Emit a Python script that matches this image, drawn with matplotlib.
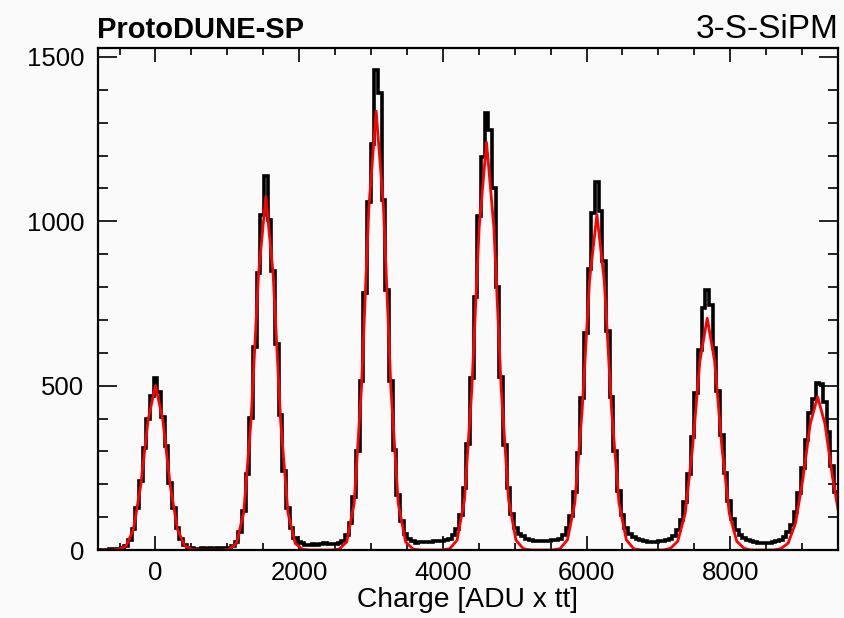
import numpy as np
import matplotlib
matplotlib.use('Agg')
import matplotlib.pyplot as plt
from matplotlib.ticker import MultipleLocator

plt.rcParams['font.family'] = ['Liberation Sans', 'DejaVu Sans']

# binning: 51.2 ADU per bin, first bin centred at -16 * 51.2
BIN_W = 51.2
FIRST_BIN = -16

# histogram counts, one per bin
counts = [
    0, 1, 0, 1, 2, 3,
    # pedestal
    4, 6, 13, 30, 64, 128, 210, 310, 400, 470, 522, 480, 405, 315, 205, 128, 66, 32, 15, 7, 5,
    4, 3, 5, 4, 5, 4, 6, 5, 6, 7,
    # 1 p.e.
    12, 25, 55, 119, 232, 402, 619, 842, 1020, 1137, 1005, 850, 628, 410, 240, 128, 66, 38, 24, 20,
    16, 15, 17, 16, 18, 22, 18, 17, 19, 20,
    # 2 p.e.
    28, 45, 83, 161, 302, 513, 782, 1060, 1235, 1459, 1390, 1065, 790, 515, 305, 166, 88, 50, 34, 27,
    22, 24, 23, 25, 24, 26, 27, 28, 30, 34,
    # 3 p.e.
    46, 65, 106, 188, 324, 524, 769, 1017, 1195, 1328, 1277, 1100, 800, 525, 320, 190, 110, 68, 50, 42,
    34, 30, 28, 27, 27, 28, 27, 29, 31, 34,
    # 4 p.e.
    47, 66, 105, 178, 295, 461, 659, 855, 1025, 1119, 1030, 880, 665, 465, 300, 180, 108, 68, 48, 40,
    34, 30, 27, 25, 24, 25, 26, 27, 30, 34,
    # 5 p.e.
    44, 60, 91, 145, 230, 345, 479, 609, 735, 790, 745, 615, 485, 350, 235, 150, 95, 62, 46, 38,
    30, 26, 23, 22, 20, 21, 22, 24, 26, 30,
    # 6 p.e.
    41, 54, 77, 115, 173, 249, 335, 417, 460, 508, 505, 450, 360, 255, 175, 140,
]

# fit curve (red), sampled every second bin centre
fit_vals = [
    0, 0, 0, 2, 12, 62, 197, 396, 500, 396, 197, 62, 12, 2,
    0, 0, 0, 0, 2, 20, 114, 397, 837, 1075, 837, 397, 114, 20, 2,
    0, 0, 0, 0, 3, 25, 141, 493, 1040, 1335, 1040, 493, 141, 25, 3,
    0, 0, 0, 0, 4, 30, 153, 489, 982, 1240, 982, 489, 153, 30, 4,
    0, 0, 0, 0, 4, 31, 143, 426, 820, 1020, 820, 426, 143, 31, 4,
    0, 0, 0, 0, 5, 27, 111, 311, 575, 705, 575, 311, 111, 27, 5,
    0, 0, 0, 0, 4, 21, 82, 216, 384, 466, 384, 225, 95,
]

edges = BIN_W * (np.arange(FIRST_BIN, FIRST_BIN + len(counts) + 1) - 0.5)
fit_x = BIN_W * np.arange(FIRST_BIN, FIRST_BIN + 2 * len(fit_vals), 2)

fig = plt.figure(figsize=(8.44, 6.18), dpi=100, facecolor='#fafafa')
ax = fig.add_axes([0.1161, 0.110, 0.8768, 0.8123], facecolor='#fafafa')

ax.stairs(counts, edges, color='black', lw=2.6)
ax.plot(fit_x, fit_vals, color='red', lw=2.0)

ax.set_xlim(-800, 9500)
ax.set_ylim(0, 1527)

ax.xaxis.set_major_locator(MultipleLocator(2000))
ax.xaxis.set_minor_locator(MultipleLocator(500))
ax.yaxis.set_major_locator(MultipleLocator(500))
ax.yaxis.set_minor_locator(MultipleLocator(100))

ax.tick_params(which='both', direction='in', top=True, right=True, width=1.2, labelsize=18.5)
ax.tick_params(axis='x', which='major', length=10, pad=8)
ax.tick_params(axis='x', which='minor', length=5)
ax.tick_params(axis='y', which='major', length=14, pad=10)
ax.tick_params(axis='y', which='minor', length=7)
for sp in ax.spines.values():
    sp.set_linewidth(1.6)

fig.text(0.115, 0.9393, 'ProtoDUNE-SP', fontsize=21, fontweight='bold',
         ha='left', va='baseline')
fig.text(0.994, 0.9393, '3-S-SiPM', fontsize=24, ha='right', va='baseline')
fig.text(0.5545, 0.0185, 'Charge [ADU x tt]', fontsize=20.3, ha='center', va='baseline')

fig.savefig('out.png', dpi=100, facecolor=fig.get_facecolor())
